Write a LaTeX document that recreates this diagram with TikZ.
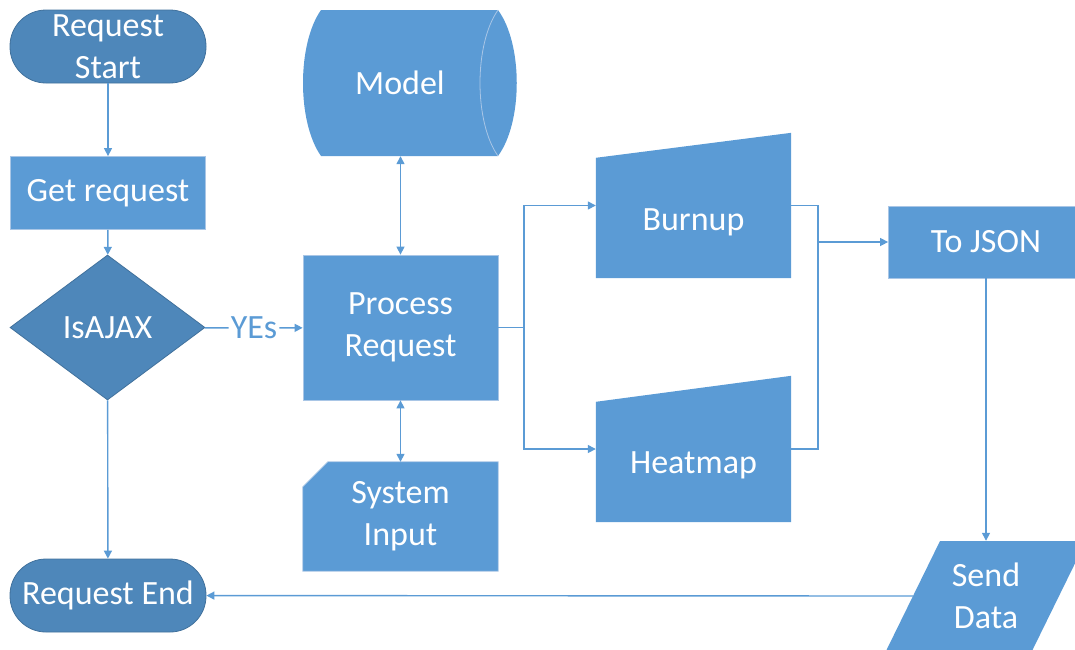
\documentclass[tikz,border=0pt]{standalone}
\usepackage{fontspec}
\setmainfont{Carlito}
\usetikzlibrary{arrows.meta,shapes.geometric,shapes.misc}
\definecolor{boxblue}{HTML}{5B9BD5}
\definecolor{darkblue}{HTML}{4E87BA}
\definecolor{edgeblue}{HTML}{41719C}
\definecolor{lightedge}{HTML}{A9C6E6}

\begin{document}
\begin{tikzpicture}[x=1pt,y=-1pt,
    every node/.style={font=\fontsize{34}{42}\selectfont, text=white, align=center},
    box/.style={rectangle, fill=boxblue, draw=lightedge, line width=0.8pt,
        minimum width=195pt, inner sep=0pt},
    terminal/.style={rectangle, rounded corners=36pt, fill=darkblue, draw=edgeblue,
        line width=0.8pt, minimum width=196pt, minimum height=73pt, inner sep=0pt},
    decision/.style={diamond, fill=darkblue, draw=edgeblue, line width=0.8pt,
        minimum width=195pt, minimum height=145pt, inner sep=0pt},
    hidden/.style={rectangle, minimum width=195pt, inner sep=0pt},
    flow/.style={draw=boxblue, line width=1.4pt, -{Triangle[width=8pt,length=8pt]}},
    both/.style={draw=boxblue, line width=1.4pt,
        {Triangle[width=8pt,length=8pt]}-{Triangle[width=8pt,length=8pt]}},
    link/.style={draw=boxblue, line width=1.4pt}]
\clip (0,0) rectangle (1075,649);

% left column
\node[terminal] (start) at (108,46.5) {Request\\Start};
\node[box, minimum height=73pt] (get) at (108,193) {Get request};
\node[decision] (isajax) at (107.5,327.5) {IsAJAX};
\node[terminal] (end) at (108,595.5) {Request End};

% middle column
\node[hidden, minimum width=214pt, minimum height=146pt] (model) at (410,83) {};
\fill[boxblue] (321,10) -- (498,10) .. controls (523,44) and (523,122) .. (498,156)
    -- (321,156) .. controls (297,122) and (297,44) .. (321,10) -- cycle;
\draw[lightedge, line width=0.8pt] (498,10) .. controls (474,44) and (474,122) .. (498,156);
\node (modellbl) at (400,83) {Model};
\node[box, minimum height=145pt] (process) at (400.5,327.5) {Process\\Request};
\node[hidden, minimum height=109pt] (sysin) at (400.5,516.5) {};
\filldraw[fill=boxblue, draw=lightedge, line width=0.8pt] (sysin.south west)
    -- ([yshift=-25pt]sysin.north west) -- ([xshift=25pt]sysin.north west)
    -- (sysin.north east) -- (sysin.south east) -- cycle;
\node (sysinlbl) at (sysin.center) {System\\Input};

% manual inputs
\node[hidden, minimum height=145pt] (burnup) at (693.5,205.5) {};
\fill[boxblue] (burnup.south west) -- ([yshift=-25pt]burnup.north west)
    -- (burnup.north east) -- (burnup.south east) -- cycle;
\node (burnuplbl) at ([yshift=-17pt]burnup.center) {Burnup};
\node[hidden, minimum height=146pt] (heatmap) at (693.5,449) {};
\fill[boxblue] (heatmap.south west) -- ([yshift=-26pt]heatmap.north west)
    -- (heatmap.north east) -- (heatmap.south east) -- cycle;
\node (heatmaplbl) at ([yshift=-16pt]heatmap.center) {Heatmap};

% right column
\node[box, minimum height=72pt] (tojson) at (986,242) {To JSON};
\node[hidden, minimum width=200pt, minimum height=110pt] (send) at (986,596) {};
\fill[boxblue] (886,651) -- (940,541) -- (1086,541) -- (1032,651) -- cycle;
\node (sendlbl) at (send.center) {Send\\Data};
\coordinate (sendin) at (913,596);

\node[text=boxblue, inner sep=2pt] (yes) at (254,328) {YEs};
\coordinate (split) at (524,327.5);
\coordinate (join) at (818,242);

\draw[flow] (start) -- (get);
\draw[flow] (get) -- (isajax);
\draw[flow] (isajax) -- (end);
\draw[link] (isajax) -- (yes);
\draw[flow] (yes) -- (process);
\draw[both] (model.south -| process.north) -- (process.north);
\draw[both] (process) -- (sysin);
\draw[link] (process) -- (split);
\draw[flow] (split) |- (burnup);
\draw[flow] (split) |- (heatmap);
\draw[link] (burnup.east) -| (join);
\draw[link] (heatmap.east) -| (join);
\draw[flow] (join) -- (tojson);
\draw[flow] (tojson) -- (send);
\draw[flow] (sendin) -- (end);
\end{tikzpicture}
\end{document}
